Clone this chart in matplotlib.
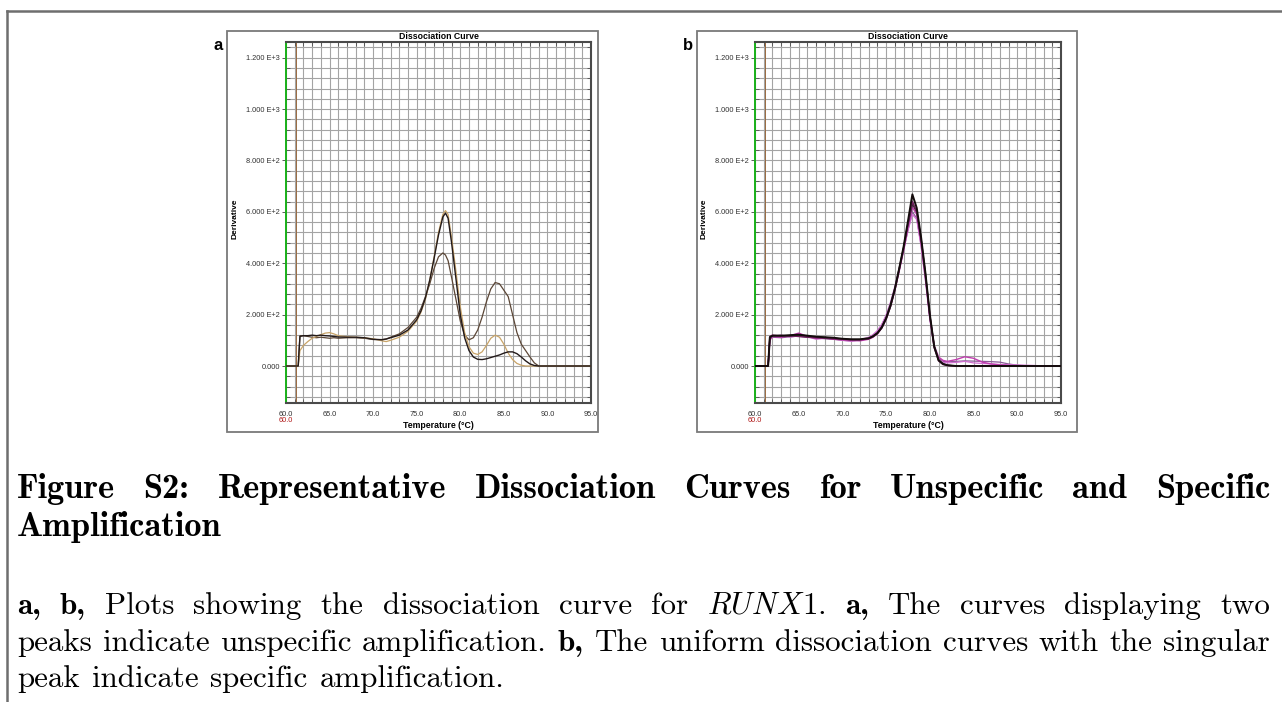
import matplotlib
matplotlib.use('Agg')
import matplotlib.pyplot as plt
from matplotlib.patches import Rectangle
from matplotlib.lines import Line2D
from matplotlib.ticker import MultipleLocator

plt.rcParams['mathtext.fontset'] = 'cm'

# ---------------- data ----------------
# panel a : three curves, two of them with a second peak
temp_a = [60, 61.4, 61.6, 62, 62.5, 63, 63.5, 64, 64.5, 65,
          65.5, 66, 67, 68, 69, 70, 71, 71.5, 72, 73,
          74, 75, 75.5, 76, 76.5, 77, 77.5, 78, 78.3, 78.6,
          79, 79.5, 80, 80.5, 81, 81.5, 82, 82.5, 83, 83.5,
          84, 84.5, 85, 85.5, 86, 86.5, 87, 87.5, 88, 88.5,
          89, 95]
curve_a1 = [0, 0, 115, 118, 118, 120, 118, 120, 118, 117,
            115, 113, 112, 112, 110, 104, 102, 105, 110, 120,
            140, 180, 215, 265, 335, 420, 510, 580, 595, 575,
            480, 340, 200, 110, 60, 35, 26, 25, 28, 33,
            38, 43, 50, 55, 55, 48, 35, 20, 8, 2,
            0, 0]
curve_a2 = [0, 0, 60, 80, 95, 108, 115, 122, 128, 130,
            125, 118, 114, 112, 110, 106, 98, 95, 100, 112,
            135, 175, 210, 260, 335, 425, 520, 590, 605, 590,
            500, 370, 230, 130, 75, 50, 45, 55, 80, 108,
            120, 112, 85, 50, 25, 10, 3, 0, 0, 0,
            0, 0]
curve_a3 = [0, 0, 118, 118, 115, 112, 110, 112, 110, 108,
            110, 108, 110, 110, 108, 103, 103, 105, 112, 125,
            150, 190, 225, 270, 320, 380, 425, 440, 432, 410,
            345, 260, 175, 120, 102, 110, 140, 190, 250, 300,
            325, 320, 295, 270, 200, 130, 85, 60, 35, 12,
            0, 0]

# panel b : uniform curves with one peak
temp_b = [60, 61.5, 61.7, 62, 63, 64, 65, 66, 67, 68,
          69, 70, 71, 72, 73, 73.5, 74, 74.5, 75, 75.5,
          76, 76.5, 77, 77.5, 78, 78.5, 79, 79.5, 80, 80.5,
          81, 81.5, 82, 83, 84, 85, 86, 87, 88, 89,
          90, 91, 92, 93, 95]
curve_b1 = [0, 0, 112, 118, 118, 120, 122, 118, 114, 112,
            110, 106, 104, 104, 108, 116, 128, 150, 185, 235,
            300, 380, 465, 565, 668, 615, 500, 360, 200, 75,
            22, 8, 3, 0, 0, 0, 0, 0, 0, 0,
            0, 0, 0, 0, 0]
curve_b2 = [0, 0, 100, 115, 112, 118, 128, 115, 108, 110,
            104, 102, 100, 98, 104, 112, 126, 148, 182, 232,
            295, 370, 450, 540, 618, 590, 480, 345, 190, 80,
            35, 22, 18, 25, 36, 30, 15, 8, 4, 2,
            0, 0, 0, 0, 0]
curve_b3 = [0, 0, 105, 112, 110, 114, 116, 112, 110, 106,
            104, 100, 98, 100, 110, 120, 135, 160, 195, 245,
            305, 375, 450, 530, 600, 575, 470, 335, 185, 75,
            30, 18, 16, 18, 20, 19, 18, 17, 15, 8,
            3, 1, 0, 0, 0]
curve_b4 = [0, 0, 115, 120, 116, 118, 115, 112, 110, 108,
            106, 104, 102, 102, 106, 114, 126, 148, 184, 232,
            296, 375, 458, 555, 640, 600, 490, 350, 195, 72,
            20, 6, 2, 0, 0, 0, 0, 0, 0, 0,
            0, 0, 0, 0, 0]
curve_b5 = [0, 0, 108, 116, 120, 112, 118, 114, 104, 108,
            106, 100, 96, 102, 112, 122, 138, 162, 198, 248,
            310, 380, 455, 528, 590, 570, 465, 330, 180, 70,
            25, 14, 12, 14, 18, 12, 10, 8, 6, 5,
            4, 3, 2, 0, 0]
curve_b6 = [0, 0, 110, 118, 119, 116, 119, 116, 113, 111,
            108, 105, 103, 103, 107, 115, 128, 152, 188, 240,
            302, 382, 462, 552, 630, 600, 495, 358, 198, 78,
            24, 9, 3, 0, 0, 0, 0, 0, 0, 0,
            0, 0, 0, 0, 0]

x_ticks = [60, 65, 70, 75, 80, 85, 90, 95]
y_ticks = [0, 200, 400, 600, 800, 1000, 1200]
y_tick_labels = ['0.000', '2.000 E+2', '4.000 E+2', '6.000 E+2',
                 '8.000 E+2', '1.000 E+3', '1.200 E+3']

W, H = 1282, 702
fig = plt.figure(figsize=(W / 100, H / 100), dpi=100)
fig.patch.set_facecolor('white')
renderer = fig.canvas.get_renderer()


def fy(y):
    # pixel row (from top) -> figure fraction
    return 1 - y / H


# outer page frame (top and left rule)
fig.add_artist(Line2D([7 / W, 1], [fy(11), fy(11)], color='#6e6e6e', lw=1.8))
fig.add_artist(Line2D([7 / W, 7 / W], [fy(11), 0], color='#6e6e6e', lw=1.8))

tick_font = dict(family='Liberation Sans', size=5.3, color='#303030')


def panel(box, plot, letter, temps, curves, colors, lws):
    bx0, by0, bx1, by1 = box
    fig.add_artist(Rectangle((bx0 / W, fy(by1)), (bx1 - bx0) / W, (by1 - by0) / H,
                             transform=fig.transFigure, fill=False,
                             ec='#7a7a7a', lw=1.3))
    px0, py0, px1, py1 = plot
    ax = fig.add_axes([px0 / W, fy(py1), (px1 - px0) / W, (py1 - py0) / H])
    ax.set_xlim(60, 95)
    ax.set_ylim(-144, 1261)

    ax.xaxis.set_minor_locator(MultipleLocator(1))
    ax.yaxis.set_minor_locator(MultipleLocator(40))
    ax.grid(which='both', color='#a4a4a4', lw=0.8)
    ax.set_axisbelow(True)

    ax.set_xticks(x_ticks)
    ax.set_xticklabels(['%.1f' % v for v in x_ticks], fontdict=tick_font)
    ax.set_yticks(y_ticks)
    ax.set_yticklabels(y_tick_labels, fontdict=tick_font)
    ax.tick_params(axis='x', which='major', length=0, pad=6)
    ax.tick_params(axis='y', which='major', length=3, width=0.6,
                   color='#404040', pad=1.2, direction='out')
    ax.tick_params(which='minor', length=3, width=0.6, color='#505050',
                   direction='in', top=True, right=True)

    for s in ['top', 'right', 'bottom']:
        ax.spines[s].set_color('#4a4a4a')
        ax.spines[s].set_linewidth(1.5)
    ax.spines['left'].set_color('#19b019')
    ax.spines['left'].set_linewidth(1.4)

    # start marker line
    ax.axvline(61.1, color='#9a6a40', lw=0.7, zorder=1.5)

    for vals, c, lw in zip(curves, colors, lws):
        ax.plot(temps, vals, color=c, lw=lw, zorder=3)

    ax.annotate('60.0', xy=(60, 0), xycoords=('data', 'axes fraction'),
                xytext=(0, -14), textcoords='offset pixels', ha='center',
                va='top', color='#b01818', fontsize=5.3, family='Liberation Sans')

    cx = (px0 + px1) / 2
    fig.text(cx / W, fy(36.5), 'Dissociation Curve', ha='center', va='center',
             fontsize=6.3, fontweight='bold', family='Liberation Sans')
    fig.text(cx / W, fy(426), 'Temperature (°C)', ha='center', va='center',
             fontsize=6.3, fontweight='bold', family='Liberation Sans')
    fig.text((px0 - 51) / W, fy((py0 + py1) / 2 - 4), 'Derivative', ha='center',
             va='center', rotation=90, fontsize=6, fontweight='bold',
             family='Liberation Sans')
    fig.text((bx0 - 4) / W, fy(45), letter, ha='right', va='center',
             fontsize=12, fontweight='bold', family='Liberation Sans')
    return ax


panel((227, 31, 598, 432), (286, 42, 591, 403), 'a', temp_a,
      [curve_a3, curve_a2, curve_a1],
      ['#5b4636', '#c9a468', '#231a1a'], [0.9, 0.9, 1.0])

panel((697, 31, 1077, 432), (755, 42, 1061, 403), 'b', temp_b,
      [curve_b3, curve_b5, curve_b2, curve_b6, curve_b4, curve_b1],
      ['#8a5a96', '#d070d0', '#c03cae', '#2a2a2a', '#6e1f5c', '#140c0c'],
      [0.9, 0.9, 1.0, 1.0, 1.1, 1.4])

# ---------------- caption ----------------
BOLD = dict(family='cmb10')
ROMAN = dict(family='cmr10')
head_size = 24.8
body_size = 22.3


def line(words, y, size, left=17, right=1270, justify=True, space=12):
    texts = []
    for w, props in words:
        t = fig.text(0, fy(y), w, ha='left', va='baseline', fontsize=size, **props)
        texts.append(t)
    widths = [t.get_window_extent(renderer).width for t in texts]
    if justify and len(texts) > 1:
        gap = (right - left - sum(widths)) / (len(texts) - 1)
    else:
        gap = space
    x = left
    for t, w in zip(texts, widths):
        t.set_x(x / W)
        x += w + gap


def words(s, props):
    return [(w, props) for w in s.split()]


line(words('Figure S2: Representative Dissociation Curves for Unspecific and Specific', BOLD),
     498, head_size)
line(words('Amplification', BOLD), 536, head_size, justify=False)

line(words('a, b,', BOLD) + words('Plots showing the dissociation curve for', ROMAN)
     + [(r'$\mathit{RUNX1.}$', dict())] + words('a,', BOLD)
     + words('The curves displaying two', ROMAN), 614, body_size)
line(words('peaks indicate unspecific amplification.', ROMAN) + words('b,', BOLD)
     + words('The uniform dissociation curves with the singular', ROMAN), 651, body_size)
line(words('peak indicate specific amplification.', ROMAN), 687, body_size,
     justify=False, space=12)

fig.savefig('out.png', dpi=100)
